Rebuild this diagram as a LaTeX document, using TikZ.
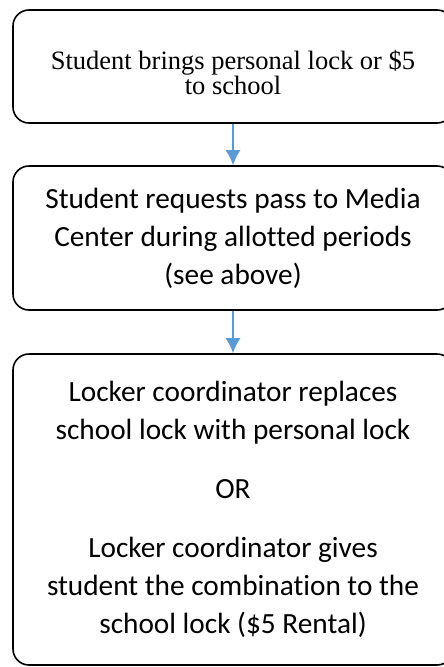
\documentclass[tikz,border=0pt]{standalone}
\usepackage{fontspec}
\setmainfont{Liberation Serif}
\newfontfamily\calib[RawFeature={-liga;-clig}]{Carlito}
\usepackage{tikz}
\usetikzlibrary{arrows.meta}
\usetikzlibrary{positioning}

\definecolor{arrowblue}{RGB}{91,155,213}

\begin{document}
\begin{tikzpicture}[
  x=1pt, y=-1pt,
  > = {Latex[length=15pt,width=15pt]},
  stepbox/.style = {draw, line width=1.6pt, rounded corners=16pt, minimum width=440pt, align=center, inner sep=0pt},
  flow/.style = {->, draw=arrowblue, fill=arrowblue, line width=1.6pt}
  ]
	\useasboundingbox (0,0) rectangle (444,667);

	\coordinate (@1) at (233,66.5);
	\coordinate (@2) at (233,238);
	\coordinate (@3) at (233,509.5);

	\node[stepbox, minimum height=113pt, font=\fontsize{26.5}{23.5}\selectfont] (bring) at (@1)
		{\rule{0pt}{31pt}Student brings personal lock or \$5\\to school};
	\node[stepbox, minimum height=144pt, font=\calib\fontsize{29.3}{38}\selectfont] (pass) at (@2)
		{Student requests pass to Media\\Center during allotted periods\\(see above)};
	\node[stepbox, minimum height=311pt, font=\calib\fontsize{29.3}{38}\selectfont] (locker) at (@3)
		{Locker coordinator replaces\\school lock with personal lock\\[21pt]OR\\[21pt]Locker coordinator gives\\student the combination to the\\school lock (\$5 Rental)};

	\draw[flow] (bring) -- (pass);
	\draw[flow] (pass) -- (locker);

\end{tikzpicture}
\end{document}
